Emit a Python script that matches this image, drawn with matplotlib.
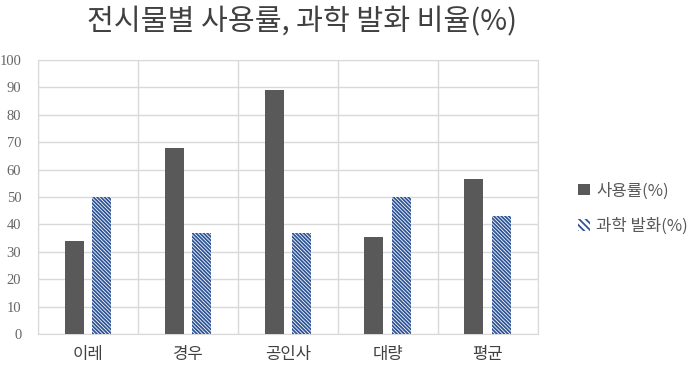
import matplotlib
matplotlib.use("Agg")
import matplotlib.pyplot as plt
from matplotlib.patches import Patch
import numpy as np

plt.rcParams['font.family'] = ['Noto Sans CJK KR', 'DejaVu Sans']
plt.rcParams['hatch.linewidth'] = 1.3

categories = ['이레', '경우', '공인사', '대량', '평균']
usage = [34, 68, 89, 35.5, 56.6]
science_talk = [50, 37, 36.7, 50, 43.2]
yticks = list(range(0, 101, 10))

DARK = '#595959'
NAVY = '#2F5597'
GRID = '#d9d9d9'

fig = plt.figure(figsize=(6.91, 3.66), dpi=100)
ax = fig.add_axes([38 / 691, 1 - 334 / 366, 500 / 691, 274 / 366])

x = np.arange(len(categories))
w = 0.19
ax.bar(x - 0.14, usage, width=w, color=DARK, linewidth=0, zorder=3)
ax.bar(x + 0.135, science_talk, width=w, facecolor='white', edgecolor=NAVY,
       hatch='\\' * 9, linewidth=0, zorder=3)

ax.set_xlim(-0.5, len(categories) - 0.5)
ax.set_ylim(0, 100)
ax.set_yticks(yticks)
ax.set_yticklabels([str(t) for t in yticks], family='Liberation Serif',
                   fontsize=10.5, color='#666666')
ax.set_xticks(x)
ax.set_xticklabels(categories, fontsize=12, color='#404040')
ax.set_xticks(np.arange(len(categories) + 1) - 0.5, minor=True)
ax.tick_params(axis='both', which='both', length=0)
ax.tick_params(axis='y', pad=12)
ax.tick_params(axis='x', pad=9)
ax.grid(axis='y', color=GRID, linewidth=1, zorder=0)
ax.grid(axis='x', which='minor', color=GRID, linewidth=1, zorder=0)
for s in ax.spines.values():
    s.set_color(GRID)

fig.text(0.437, 0.94, '전시물별 사용률, 과학 발화 비율(%)', ha='center', va='center',
         fontsize=21, fontweight='medium', color='#404040')

handles = [Patch(facecolor=DARK, label='사용률(%)'),
           Patch(facecolor='white', edgecolor=NAVY, hatch='\\' * 5, linewidth=0,
                 label='과학 발화(%)')]
leg = fig.legend(handles=handles, loc='center left', bbox_to_anchor=(0.815, 0.43),
                 frameon=False, handlelength=0.7, handleheight=0.7, handletextpad=0.4,
                 labelspacing=1.1, fontsize=12)
for t in leg.get_texts():
    t.set_color(DARK)

fig.savefig('out.png', dpi=100)
